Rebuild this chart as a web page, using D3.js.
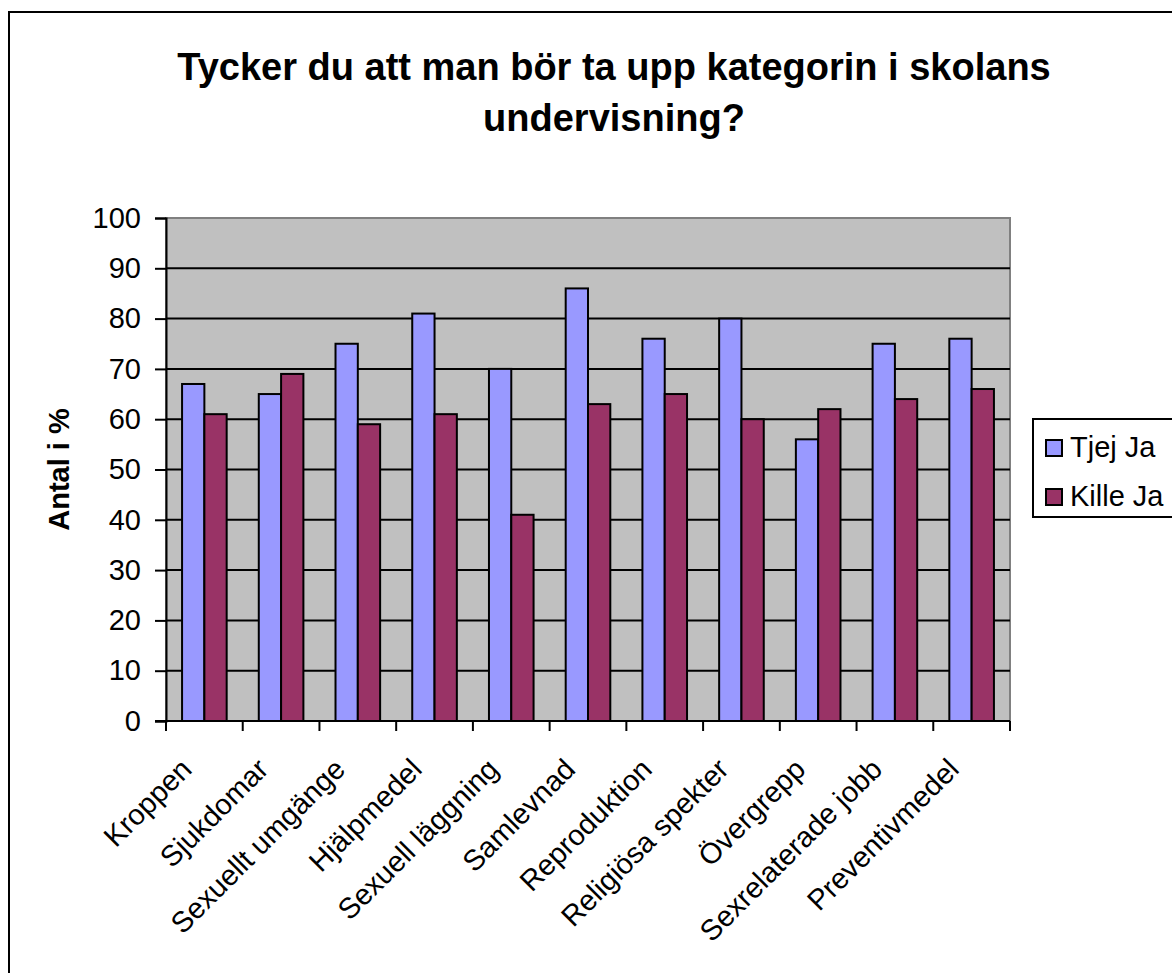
<!DOCTYPE html>
<html><head><meta charset="utf-8">
<script src="https://cdn.jsdelivr.net/npm/d3@7"></script>
<style>body{margin:0;background:#fff}svg{display:block}text{font-family:"Liberation Sans",Arial,sans-serif}</style>
</head><body>
<script>
const categories = ["Kroppen","Sjukdomar","Sexuellt umgänge","Hjälpmedel","Sexuell läggning","Samlevnad","Reproduktion","Religiösa spekter","Övergrepp","Sexrelaterade jobb","Preventivmedel"];
const tjejJa = [67,65,75,81,70,86,76,80,56,75,76];
const killeJa = [61,69,59,61,41,63,65,60,62,64,66];
const seriesNames = ["Tjej Ja","Kille Ja"];
const seriesColors = ["#9999FF","#993366"];
const yTicks = [0,10,20,30,40,50,60,70,80,90,100];
const titleLines = ["Tycker du att man bör ta upp kategorin i skolans","undervisning?"];
const yTitle = "Antal i %";

const W=1172,H=973;
const svg=d3.select("body").append("svg").attr("width",W).attr("height",H);
svg.append("rect").attr("x",9).attr("y",12).attr("width",1200).attr("height",1000).attr("fill","#fff").attr("stroke","#000").attr("stroke-width",2);

const L=166,R=1010,T=218,B=721;
const x=d3.scaleBand().domain(categories).range([L,R]).padding(0);
const y=d3.scaleLinear().domain([0,100]).range([B,T]);
const bw=x.bandwidth()/3.44;
const xs=d3.scaleBand().domain(seriesNames).range([0,bw*2]);

svg.append("rect").attr("x",L).attr("y",T).attr("width",R-L).attr("height",B-T).attr("fill","#C0C0C0").attr("stroke","#808080").attr("stroke-width",2);

// gridlines
svg.append("g").selectAll("line").data(yTicks.filter(d=>d>0&&d<100)).join("line")
 .attr("x1",L).attr("x2",R).attr("y1",d=>y(d)).attr("y2",d=>y(d)).attr("stroke","#000").attr("stroke-width",2);

const data=categories.map((c,i)=>({c,vals:[tjejJa[i],killeJa[i]]}));
const g=svg.append("g");
data.forEach(d=>{
  const x0=x(d.c)+(x.bandwidth()-bw*2)/2;
  d.vals.forEach((v,j)=>{
    g.append("rect").attr("x",x0+xs(seriesNames[j])).attr("y",y(v)).attr("width",bw).attr("height",y(0)-y(v))
     .attr("fill",seriesColors[j]).attr("stroke","#000").attr("stroke-width",2);
  });
});

// y axis
const ya=svg.append("g").attr("transform",`translate(${L},0)`).call(d3.axisLeft(y).tickValues(yTicks).tickSize(11).tickPadding(14));
ya.select(".domain").attr("stroke","#000").attr("stroke-width",2);
ya.selectAll(".tick line").attr("stroke","#000").attr("stroke-width",2);
ya.selectAll("text").attr("font-size",29).attr("fill","#000").attr("font-family","'Liberation Sans',Arial,sans-serif");

// x axis
const xa=svg.append("g").attr("transform",`translate(0,${B})`);
xa.append("line").attr("x1",L-11).attr("x2",R).attr("stroke","#000").attr("stroke-width",2);
const bounds=categories.map(c=>x(c)).concat([R]);
xa.selectAll("line.t").data(bounds).join("line").attr("class","t").attr("x1",d=>d).attr("x2",d=>d).attr("y1",0).attr("y2",10).attr("stroke","#000").attr("stroke-width",2);
xa.selectAll("text").data(categories).join("text")
 .attr("transform",d=>`translate(${x(d)+x.bandwidth()/2-11},${50}) rotate(-45)`)
 .attr("text-anchor","end").attr("font-size",29).text(d=>d);

// title
svg.append("g").selectAll("text").data(titleLines).join("text")
 .attr("x",614).attr("y",(d,i)=>80+i*51).attr("text-anchor","middle").attr("font-size",38).attr("font-weight","bold").text(d=>d);

svg.append("text").attr("transform",`translate(69,${(T+B)/2}) rotate(-90)`).attr("text-anchor","middle").attr("font-size",29).attr("font-weight","bold").text(yTitle);

// legend
const lg=svg.append("g").attr("transform","translate(1033,419)");
lg.append("rect").attr("width",160).attr("height",98).attr("fill","#fff").attr("stroke","#000").attr("stroke-width",2);
seriesNames.forEach((s,i)=>{
  lg.append("rect").attr("x",13).attr("y",21+i*49).attr("width",16).attr("height",16).attr("fill",seriesColors[i]).attr("stroke","#000").attr("stroke-width",2);
  lg.append("text").attr("x",37).attr("y",38+i*49).attr("font-size",29).text(s);
});
</script>
</body></html>
